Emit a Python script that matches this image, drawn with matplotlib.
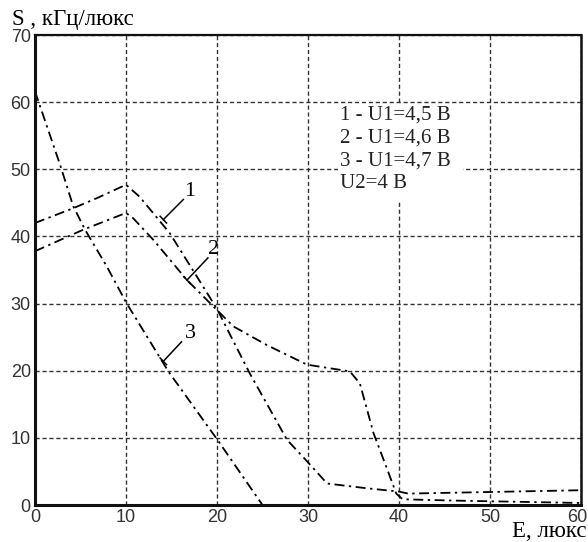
import matplotlib
matplotlib.use("Agg")
import matplotlib.pyplot as plt
from matplotlib.patches import Rectangle
from matplotlib.transforms import ScaledTranslation

# ===== data =====
x1 = [0, 4.2, 6.8, 10, 11.5, 14.8, 17.8, 20, 23.6, 27.7, 29.9, 32.1, 36.4, 40, 41, 60]
y1 = [42, 44.2, 45.7, 47.7, 45.9, 40.5, 34.0, 29.2, 19.6, 9.7, 6.5, 3.2, 2.5, 2.0, 1.7, 2.2]

x2 = [0, 5.3, 10, 10.8, 13, 16.7, 19.8, 21.8, 25.5, 29.9, 34.6, 35.7, 37.2, 38.6, 39.7, 40.4, 46.3, 60]
y2 = [37.8, 41.0, 43.5, 42.7, 39.5, 33.5, 29.3, 26.6, 23.8, 20.9, 19.9, 18.1, 10.7, 5.7, 1.7, 0.85, 0.65, 0.3]

x3 = [0, 2.75, 4.2, 5.5, 7.9, 10, 14.65, 20, 25]
y3 = [61.6, 50.7, 44.5, 41.0, 35.5, 30.2, 19.9, 9.8, 0]

# curve labels: (text, text pos, leader start, leader end)
curve_labels = [
    ("1", (16.4, 45.3), (14.1, 42.5), (16.3, 45.5)),
    ("2", (19.0, 36.6), (16.7, 33.5), (19.0, 36.8)),
    ("3", (16.5, 24.1), (14.1, 21.4), (16.1, 24.3)),
]

notes = ["1 - U1=4,5 B", "2 - U1=4,6 B", "3 - U1=4,7 B", "U2=4 B"]

# ===== figure =====
fig = plt.figure(figsize=(5.88, 5.42), dpi=100)
ax = fig.add_axes([35 / 588, 37 / 542, 546 / 588, 470 / 542])

dash_dot = (0, (5.5, 2.5, 1.3, 2.5))
for xs, ys in [(x1, y1), (x2, y2), (x3, y3)]:
    ax.plot(xs, ys, color="black", lw=1.3, linestyle=dash_dot, zorder=3)

for txt, tpos, p0, p1 in curve_labels:
    ax.plot([p0[0], p1[0]], [p0[1], p1[1]], color="black", lw=1.1, zorder=3)
    # small tick across the leader end
    ax.plot([p0[0] - 0.35, p0[0] + 0.35], [p0[1] + 0.5, p0[1] - 0.5], color="black", lw=1.1, zorder=3)
    ax.text(tpos[0], tpos[1], txt, fontsize=16, family="Liberation Serif",
            ha="left", va="bottom", color="black")

# white block behind the notes hides the grid there
ax.add_patch(Rectangle((33.3, 45.4), 13.7, 14.2, facecolor="white", edgecolor="none", zorder=2))
for i, line in enumerate(notes):
    ax.text(33.5, 58.1 - i * 3.4, line, fontsize=15, family="Liberation Serif",
            ha="left", va="center", color="#222222", zorder=4)

ax.set_xlim(0, 60)
ax.set_ylim(0, 70)
ax.set_xticks(range(0, 61, 10))
ax.set_yticks(range(0, 71, 10))
ax.grid(True, color="#333333", lw=1.0, linestyle=(0, (3, 2)))
ax.tick_params(length=0, labelsize=13, labelcolor="#333333", pad=3)
for lab in ax.get_xticklabels() + ax.get_yticklabels():
    lab.set_family("Liberation Sans")
# keep the last x label inside the figure, as in the reference
last = ax.get_xticklabels()[-1]
last.set_ha("right")
last.set_transform(last.get_transform() + ScaledTranslation(6 / 100, 0, fig.dpi_scale_trans))

for side in ["left", "bottom", "right", "top"]:
    ax.spines[side].set_color("#111111")
    ax.spines[side].set_zorder(5)
ax.spines["left"].set_linewidth(2.2)
ax.spines["bottom"].set_linewidth(2.2)
ax.spines["right"].set_linewidth(1.8)
ax.spines["top"].set_linewidth(1.6)

fig.text(12 / 588, 1 - 25 / 542, "S , кГц/люкс", fontsize=16.5,
         family="Liberation Serif", va="baseline", ha="left")
fig.text(512 / 588, 1 - 537 / 542, "E, люкс", fontsize=16.5,
         family="Liberation Serif", va="baseline", ha="left")

plt.savefig("out.png", dpi=100)
